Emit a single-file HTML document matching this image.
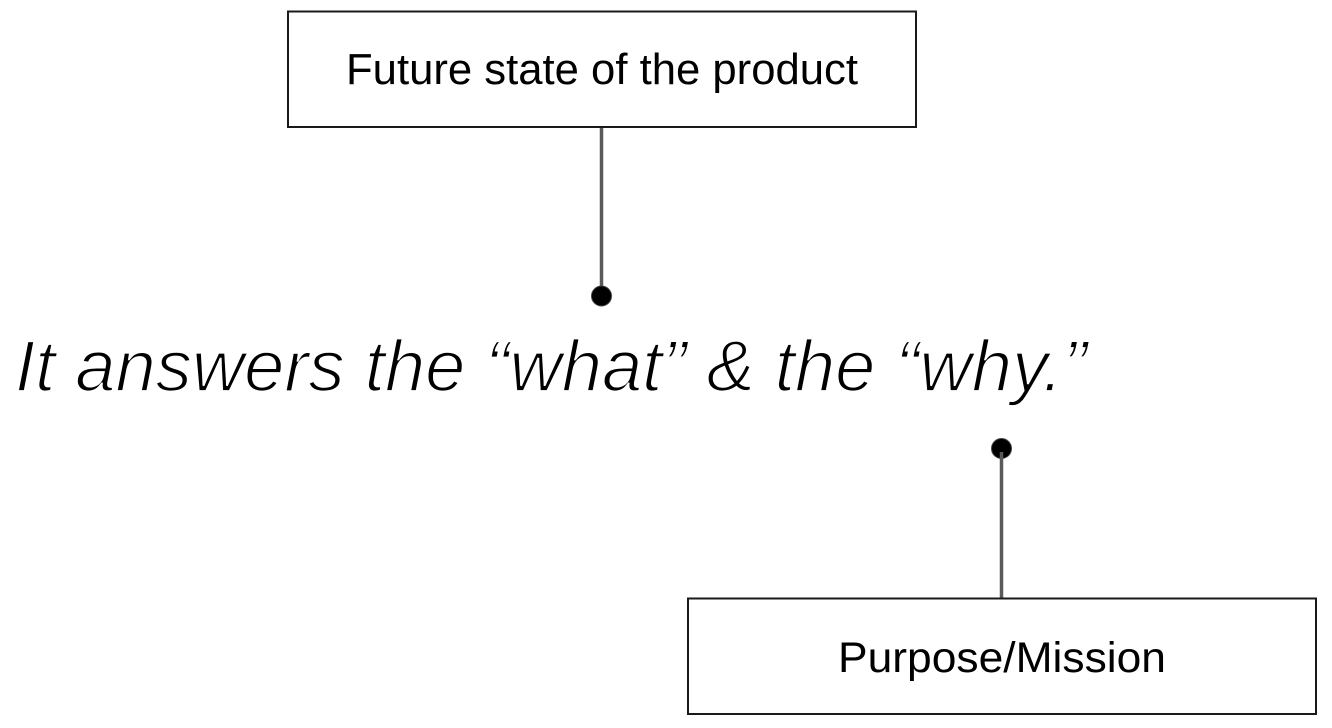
<!DOCTYPE html>
<html>
<head>
<meta charset="utf-8">
<style>
  html, body { margin: 0; padding: 0; background: #ffffff; }
  body { width: 1332px; height: 728px; overflow: hidden; }
  svg { display: block; }
  text { font-family: "Liberation Sans", "DejaVu Sans", sans-serif; fill: #000; }
</style>
</head>
<body>
<svg width="1332" height="728" viewBox="0 0 1332 728" xmlns="http://www.w3.org/2000/svg">
  <!-- Top box -->
  <rect x="288" y="11.5" width="628" height="115.5" fill="#fff" stroke="#1a1a1a" stroke-width="2"/>
  <text x="346" y="84" font-size="43.5" textLength="512" lengthAdjust="spacingAndGlyphs">Future state of the product</text>

  <!-- Connector from top box -->
  <line x1="601.5" y1="128" x2="601.5" y2="292" stroke="#5a5a5a" stroke-width="3.5"/>
  <circle cx="601.5" cy="296" r="10" fill="#000" stroke="#444" stroke-width="1"/>

  <!-- Main italic text (thinned with white stroke overlay to mimic light weight) -->
  <text x="15" y="391" font-size="72" font-style="italic" textLength="1072" lengthAdjust="spacingAndGlyphs" style="fill:#000; stroke:#fff; stroke-width:1.8px; paint-order:fill stroke;">It answers the “what” &amp; the “why.”</text>

  <!-- Connector to bottom box -->
  <circle cx="1001.5" cy="448.5" r="10" fill="#000" stroke="#444" stroke-width="1"/>
  <line x1="1001.5" y1="452" x2="1001.5" y2="598" stroke="#5a5a5a" stroke-width="3.5"/>

  <!-- Bottom box -->
  <rect x="688" y="598.5" width="628" height="115.5" fill="#fff" stroke="#1a1a1a" stroke-width="2"/>
  <text x="838" y="672" font-size="43" textLength="328" lengthAdjust="spacingAndGlyphs">Purpose/Mission</text>
</svg>
</body>
</html>
